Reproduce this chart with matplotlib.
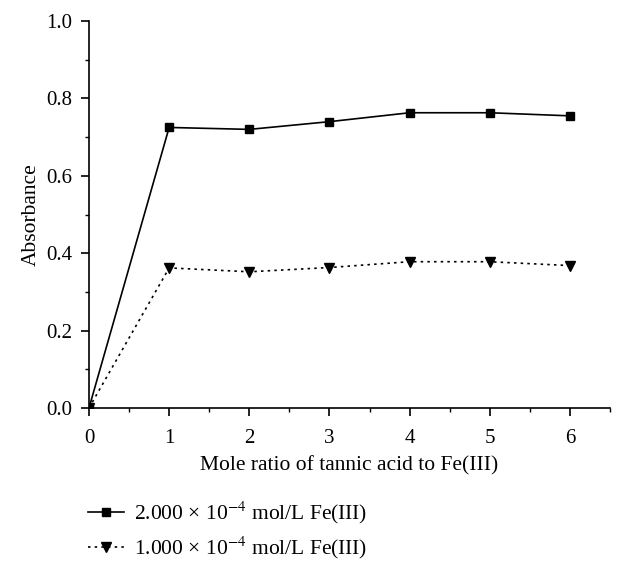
import numpy as np
import matplotlib.pyplot as plt

# mole ratio tannic acid : Fe(III)
ratio = [0, 1, 2, 3, 4, 5, 6]
abs_high = [0.0, 0.725, 0.720, 0.740, 0.763, 0.763, 0.755]   # 2.000e-4 mol/L
abs_low = [0.0, 0.362, 0.352, 0.363, 0.378, 0.378, 0.368]    # 1.000e-4 mol/L

plt.rcParams['font.family'] = ['Liberation Serif', 'DejaVu Serif']
plt.rcParams['mathtext.fontset'] = 'stix'

fig = plt.figure(figsize=(6.24, 5.69), dpi=100)
ax = fig.add_axes([0.1426, 0.283, 0.835, 0.68])

ax.plot(ratio, abs_high, color="black", lw=1.2, marker="s", ms=6,
        label="2.000 × 10$^{-4}$ mol/L Fe(III)")
ax.plot(ratio, abs_low, color="black", lw=1.2, ls=(0, (1.5, 2.5)), marker="v", ms=7,
        label="1.000 × 10$^{-4}$ mol/L Fe(III)")

ax.set_xlim(0, 6.5)
ax.set_ylim(0, 1.0)
ax.set_xticks(range(0, 7))
ax.set_xticks(np.arange(0.5, 6.6, 1), minor=True)
ax.set_yticks(np.arange(0, 1.01, 0.2))
ax.set_yticks(np.arange(0.1, 1.0, 0.2), minor=True)
ax.yaxis.set_major_formatter(plt.FormatStrFormatter("%.1f"))

ax.spines["top"].set_visible(False)
ax.spines["right"].set_visible(False)
for s in ["left", "bottom"]:
    ax.spines[s].set_linewidth(1.2)
ax.tick_params(which="major", direction="out", length=6, width=1.2, labelsize=15)
ax.tick_params(which="minor", direction="out", length=3, width=1.0)
ax.tick_params(axis="x", pad=9)
ax.tick_params(axis="y", pad=6)

ax.set_xlabel("Mole ratio of tannic acid to Fe(III)", fontsize=15.5, labelpad=6)
ax.set_ylabel("Absorbance", fontsize=15.5, labelpad=4)

fig.legend(loc="upper left", bbox_to_anchor=(0.141, 0.122), frameon=False,
           fontsize=15.5, handlelength=1.65, handletextpad=0.5, labelspacing=0.4,
           borderaxespad=0, borderpad=0)

fig.savefig("out.png", dpi=100)
